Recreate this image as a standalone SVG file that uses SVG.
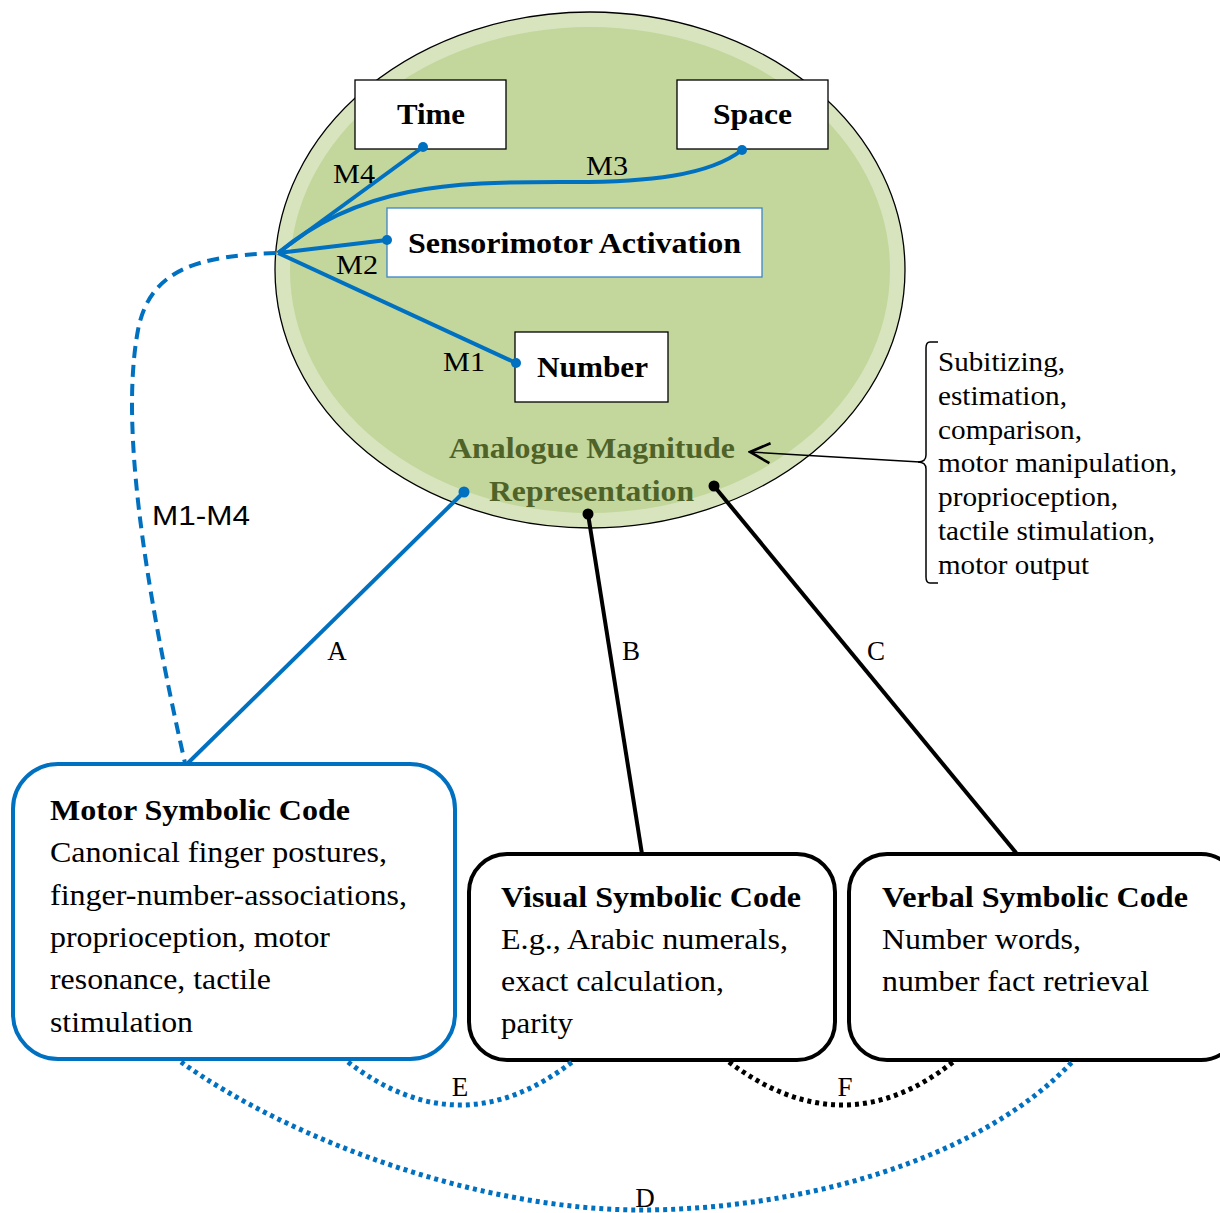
<svg xmlns="http://www.w3.org/2000/svg" width="1220" height="1213" viewBox="0 0 1220 1213">
<defs>
<style>
text{font-family:"Liberation Serif","Times New Roman",serif;fill:#000;}
.b{font-weight:bold;}
.f29{font-size:29px;}
.f27{font-size:27px;}
.g{fill:#4f6228;}
.sans{font-family:"Liberation Sans",Arial,sans-serif;}
.box{fill:#fff;stroke:#000;stroke-width:1.3;}
.blue{stroke:#0070c0;fill:none;stroke-width:4;}
.blk{stroke:#000;fill:none;stroke-width:4;}
.dotted{stroke-width:5;stroke-dasharray:4,4;}
.dot{fill:#0070c0;}
.dotk{fill:#000;}
</style>
<marker id="open" viewBox="0 0 12 12" refX="11" refY="6" markerWidth="24" markerHeight="24" markerUnits="userSpaceOnUse" orient="auto">
<path d="M1,1 L11,6 L1,11" fill="none" stroke="#000" stroke-width="1.3"/>
</marker>
</defs>
<rect width="1220" height="1213" fill="#fff"/>
<g id="amr">
<ellipse cx="590" cy="270" rx="315" ry="258" fill="#d7e4bd" stroke="#000" stroke-width="1.3"/>
<ellipse cx="590" cy="270" rx="300" ry="243" fill="#c3d69b"/>
<text class="b f29 g" x="449" y="458" textLength="286" lengthAdjust="spacingAndGlyphs">Analogue Magnitude</text>
<text class="b f29 g" x="489" y="501" textLength="205" lengthAdjust="spacingAndGlyphs">Representation</text>
</g>
<g id="time"><rect class="box" x="355" y="80" width="151" height="69"/><text class="b f29" x="397" y="124" textLength="68" lengthAdjust="spacingAndGlyphs">Time</text></g>
<g id="space"><rect class="box" x="677" y="80" width="151" height="69"/><text class="b f29" x="713" y="124" textLength="79" lengthAdjust="spacingAndGlyphs">Space</text></g>
<g id="sensorimotor"><rect x="387" y="208" width="375" height="69" fill="#fff" stroke="#3a86c8" stroke-width="1.3"/><text class="b f29" x="408" y="253" textLength="333" lengthAdjust="spacingAndGlyphs">Sensorimotor Activation</text></g>
<g id="number"><rect class="box" x="515" y="332" width="153" height="70"/><text class="b f29" x="537" y="377" textLength="111" lengthAdjust="spacingAndGlyphs">Number</text></g>
<g id="bracket">
<path d="M938,342 L930,342 Q926,342 926,348 L926,455 Q926,462 918,462 Q926,462 926,469 L926,577 Q926,583 930,583 L938,583" fill="none" stroke="#000" stroke-width="1.5"/>
<text class="f27" x="938" y="371" textLength="127" lengthAdjust="spacingAndGlyphs">Subitizing,</text>
<text class="f27" x="938" y="405" textLength="129" lengthAdjust="spacingAndGlyphs">estimation,</text>
<text class="f27" x="938" y="439" textLength="144" lengthAdjust="spacingAndGlyphs">comparison,</text>
<text class="f27" x="938" y="472" textLength="239" lengthAdjust="spacingAndGlyphs">motor manipulation,</text>
<text class="f27" x="938" y="506" textLength="180" lengthAdjust="spacingAndGlyphs">proprioception,</text>
<text class="f27" x="938" y="540" textLength="217" lengthAdjust="spacingAndGlyphs">tactile stimulation,</text>
<text class="f27" x="938" y="574" textLength="151" lengthAdjust="spacingAndGlyphs">motor output</text>
</g>
<g id="motor">
<rect x="13" y="764" width="442" height="295" rx="45" fill="#fff" stroke="#0070c0" stroke-width="4"/>
<text class="b f29" x="50" y="820" textLength="300" lengthAdjust="spacingAndGlyphs">Motor Symbolic Code</text>
<text class="f29" x="50" y="862" textLength="337" lengthAdjust="spacingAndGlyphs">Canonical finger postures,</text>
<text class="f29" x="50" y="905" textLength="357" lengthAdjust="spacingAndGlyphs">finger-number-associations,</text>
<text class="f29" x="50" y="947" textLength="280" lengthAdjust="spacingAndGlyphs">proprioception, motor</text>
<text class="f29" x="50" y="989" textLength="221" lengthAdjust="spacingAndGlyphs">resonance, tactile</text>
<text class="f29" x="50" y="1032" textLength="143" lengthAdjust="spacingAndGlyphs">stimulation</text>
</g>
<g id="visual">
<rect x="469" y="854" width="366" height="206" rx="38" fill="#fff" stroke="#000" stroke-width="4"/>
<text class="b f29" x="501" y="907" textLength="300" lengthAdjust="spacingAndGlyphs">Visual Symbolic Code</text>
<text class="f29" x="501" y="949" textLength="287" lengthAdjust="spacingAndGlyphs">E.g., Arabic numerals,</text>
<text class="f29" x="501" y="991" textLength="223" lengthAdjust="spacingAndGlyphs">exact calculation,</text>
<text class="f29" x="501" y="1033" textLength="72" lengthAdjust="spacingAndGlyphs">parity</text>
</g>
<g id="verbal">
<rect x="849" y="854" width="390" height="206" rx="38" fill="#fff" stroke="#000" stroke-width="4"/>
<text class="b f29" x="882" y="907" textLength="306" lengthAdjust="spacingAndGlyphs">Verbal Symbolic Code</text>
<text class="f29" x="882" y="949" textLength="199" lengthAdjust="spacingAndGlyphs">Number words,</text>
<text class="f29" x="882" y="991" textLength="267" lengthAdjust="spacingAndGlyphs">number fact retrieval</text>
</g>
<g id="connectors">
<path class="blue" d="M278,253 L423,147"/>
<path class="blue" d="M278,253 C360,185 450,182 560,182 C650,183 710,175 742,150"/>
<path class="blue" d="M278,253 L387,240"/>
<path class="blue" d="M278,253 L516,363"/>
<circle class="dot" cx="423" cy="147" r="5"/>
<circle class="dot" cx="742" cy="150" r="5"/>
<circle class="dot" cx="387" cy="240" r="5"/>
<circle class="dot" cx="516" cy="363" r="5"/>
<path class="blue" stroke-dasharray="12,7" d="M276,253 C200,256 150,268 138,330 C125,400 130,520 185,763"/>
<path class="blue" d="M464,492 L188,763"/>
<circle class="dot" cx="464" cy="492" r="5.5"/>
<path class="blk" d="M588,514 L642,854"/>
<circle class="dotk" cx="588" cy="514" r="5.5"/>
<path class="blk" d="M714,486 L1017,854"/>
<circle class="dotk" cx="714" cy="486" r="5.5"/>
<path d="M920,462 L750,452" fill="none" stroke="#000" stroke-width="1.5" marker-end="url(#open)"/>
<path class="blue dotted" d="M348,1062 Q460,1148 572,1062"/>
<path class="blk dotted" d="M729,1062 Q844,1148 953,1062"/>
<path class="blue dotted" d="M181,1062 C290,1140 480,1210 640,1210 C800,1210 980,1160 1072,1062"/>
<text class="f27" x="333" y="183" textLength="42" lengthAdjust="spacingAndGlyphs">M4</text>
<text class="f27" x="586" y="175" textLength="42" lengthAdjust="spacingAndGlyphs">M3</text>
<text class="f27" x="336" y="274" textLength="42" lengthAdjust="spacingAndGlyphs">M2</text>
<text class="f27" x="443" y="371" textLength="42" lengthAdjust="spacingAndGlyphs">M1</text>
<text class="sans" font-size="27" x="152" y="525" textLength="98" lengthAdjust="spacingAndGlyphs">M1-M4</text>
<text class="f27" x="337" y="660" text-anchor="middle">A</text>
<text class="f27" x="631" y="660" text-anchor="middle">B</text>
<text class="f27" x="876" y="660" text-anchor="middle">C</text>
<text class="f27" x="460" y="1096" text-anchor="middle">E</text>
<text class="f27" x="845" y="1096" text-anchor="middle">F</text>
<text class="f27" x="645" y="1207" text-anchor="middle">D</text>
</g>
</svg>
